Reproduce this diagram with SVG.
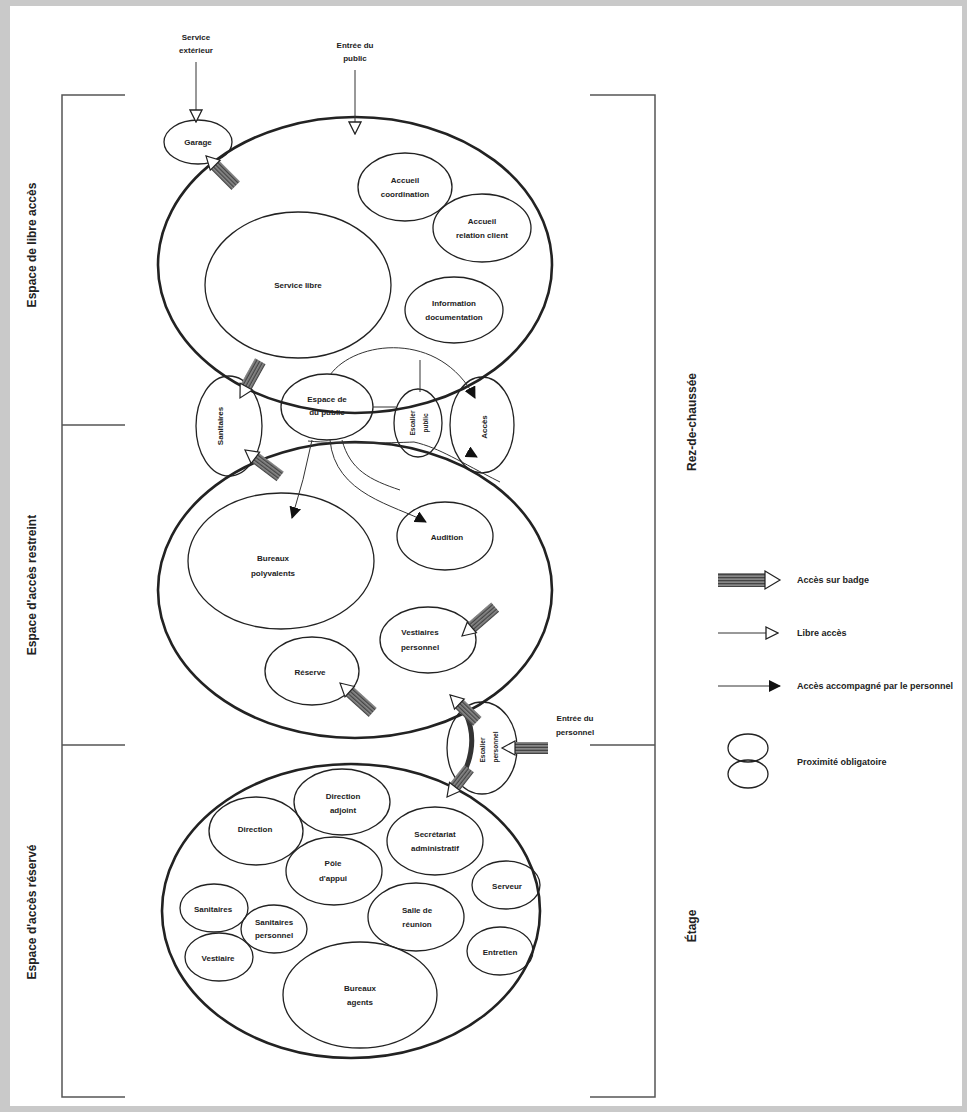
<svg xmlns="http://www.w3.org/2000/svg" width="967" height="1112" viewBox="0 0 967 1112">
<defs>
<style>
text{font-family:"Liberation Sans",Arial,sans-serif;font-weight:bold;font-size:8px;fill:#222;text-anchor:middle;dominant-baseline:central}
.side{font-size:12px}
.v{font-size:6.5px}
.leg{text-anchor:start;font-size:9px}
.n{fill:none;stroke:#222;stroke-width:1.3}
.big{fill:none;stroke:#222;stroke-width:2.6}
.br{fill:none;stroke:#555;stroke-width:1.5}
.c{fill:none;stroke:#333;stroke-width:1}
.open{fill:#fff;stroke:#222;stroke-width:1.2}
</style>
<pattern id="hatch" width="3" height="3" patternUnits="userSpaceOnUse">
<rect width="3" height="3" fill="#888"/>
<rect width="3" height="1.3" fill="#444"/>
</pattern>
<marker id="fh" viewBox="0 0 12 12" refX="11" refY="6" markerWidth="12" markerHeight="12" markerUnits="userSpaceOnUse" orient="auto">
<path d="M0,0 L12,6 L0,12 Z" fill="#111"/>
</marker>
<marker id="oh" viewBox="0 0 14 14" refX="13" refY="7" markerWidth="14" markerHeight="14" markerUnits="userSpaceOnUse" orient="auto">
<path d="M1,1 L13,7 L1,13 Z" fill="#fff" stroke="#222" stroke-width="1.3"/>
</marker>
</defs>
<rect width="967" height="1112" fill="#c9c9c9"/>
<rect x="10" y="6" width="952" height="1100" fill="#fff"/>

<g id="brackets">
<path class="br" d="M125,95 H62 V1097 H125 M62,425 H125 M62,745 H125"/>
<path class="br" d="M590,95 H655 V1097 H590 M590,745 H655"/>
<text class="side" transform="translate(32,245) rotate(-90)">Espace de libre accès</text>
<text class="side" transform="translate(32,585) rotate(-90)">Espace d'accès restreint</text>
<text class="side" transform="translate(32,912) rotate(-90)">Espace d'accès réservé</text>
<text class="side" transform="translate(692,422) rotate(-90)">Rez-de-chaussée</text>
<text class="side" transform="translate(692,926) rotate(-90)">Étage</text>
</g>

<g id="zone-libre"><ellipse class="big" cx="355" cy="265" rx="197" ry="148"/></g>
<g id="zone-restreint"><ellipse class="big" cx="355" cy="590" rx="197" ry="148"/></g>
<g id="zone-reserve"><ellipse class="big" cx="351" cy="911" rx="189" ry="147"/></g>

<g id="n-service-ext"><text x="196" y="37">Service</text><text x="196" y="50">extérieur</text></g>
<g id="n-entree-public"><text x="355" y="45">Entrée du</text><text x="355" y="58">public</text></g>
<g id="n-garage"><ellipse class="n" cx="198" cy="142" rx="34" ry="22"/><text x="198" y="142">Garage</text></g>
<g id="n-accueil-coord"><ellipse class="n" cx="405" cy="187" rx="47" ry="34"/><text x="405" y="180">Accueil</text><text x="405" y="194">coordination</text></g>
<g id="n-accueil-rel"><ellipse class="n" cx="482" cy="228" rx="49" ry="34"/><text x="482" y="221">Accueil</text><text x="482" y="235">relation client</text></g>
<g id="n-info"><ellipse class="n" cx="454" cy="310" rx="49" ry="33"/><text x="454" y="303">Information</text><text x="454" y="317">documentation</text></g>
<g id="n-service-libre"><ellipse class="n" cx="298" cy="285" rx="93" ry="73"/><text x="298" y="285">Service libre</text></g>

<g id="n-sanitaires-rdc"><ellipse class="n" cx="229" cy="426" rx="33" ry="50"/><text transform="translate(220,426) rotate(-90)">Sanitaires</text></g>
<g id="n-espace"><ellipse class="n" cx="327" cy="407" rx="46" ry="33"/><text x="327" y="399">Espace de</text><text x="327" y="412">du public</text></g>
<g id="n-escalier-public"><ellipse class="n" cx="418" cy="423" rx="24" ry="34"/><text class="v" transform="translate(412,423) rotate(-90)">Escalier</text><text class="v" transform="translate(425,423) rotate(-90)">public</text></g>
<g id="n-acces"><ellipse class="n" cx="482" cy="425" rx="32" ry="48"/><text transform="translate(484,427) rotate(-90)">Accès</text></g>

<g id="n-bureaux-poly"><ellipse class="n" cx="281" cy="561" rx="93" ry="68"/><text x="273" y="558">Bureaux</text><text x="273" y="573">polyvalents</text></g>
<g id="n-audition"><ellipse class="n" cx="445" cy="536" rx="48" ry="34"/><text x="447" y="537">Audition</text></g>
<g id="n-vestiaires-pers"><ellipse class="n" cx="428" cy="640" rx="48" ry="33"/><text x="420" y="632">Vestiaires</text><text x="420" y="647">personnel</text></g>
<g id="n-reserve"><ellipse class="n" cx="312" cy="671" rx="47" ry="34"/><text x="310" y="672">Réserve</text></g>

<g id="n-escalier-pers"><ellipse class="n" cx="482" cy="748" rx="35" ry="46"/><text class="v" transform="translate(482,750) rotate(-90)">Escalier</text><text class="v" transform="translate(495,747) rotate(-90)">personnel</text></g>
<g id="n-entree-pers"><text x="575" y="718">Entrée du</text><text x="575" y="732">personnel</text></g>

<g id="n-direction-adj"><ellipse class="n" cx="342" cy="802" rx="48" ry="33"/><text x="343" y="796">Direction</text><text x="343" y="810">adjoint</text></g>
<g id="n-direction"><ellipse class="n" cx="256" cy="831" rx="47" ry="34"/><text x="255" y="829">Direction</text></g>
<g id="n-secretariat"><ellipse class="n" cx="435" cy="841" rx="48" ry="34"/><text x="435" y="834">Secrétariat</text><text x="435" y="848">administratif</text></g>
<g id="n-pole"><ellipse class="n" cx="334" cy="871" rx="48" ry="34"/><text x="333" y="863">Pôle</text><text x="333" y="878">d'appui</text></g>
<g id="n-serveur"><ellipse class="n" cx="506" cy="885" rx="34" ry="24"/><text x="507" y="886">Serveur</text></g>
<g id="n-sanitaires"><ellipse class="n" cx="214" cy="908" rx="34" ry="24"/><text x="213" y="909">Sanitaires</text></g>
<g id="n-sanitaires-pers"><ellipse class="n" cx="274" cy="929" rx="33" ry="24"/><text x="274" y="922">Sanitaires</text><text x="274" y="935">personnel</text></g>
<g id="n-vestiaire"><ellipse class="n" cx="219" cy="957" rx="34" ry="24"/><text x="218" y="958">Vestiaire</text></g>
<g id="n-salle"><ellipse class="n" cx="416" cy="917" rx="48" ry="34"/><text x="417" y="910">Salle de</text><text x="417" y="924">réunion</text></g>
<g id="n-entretien"><ellipse class="n" cx="500" cy="951" rx="33" ry="24"/><text x="500" y="952">Entretien</text></g>
<g id="n-bureaux-agents"><ellipse class="n" cx="360" cy="995" rx="77" ry="53"/><text x="360" y="988">Bureaux</text><text x="360" y="1002">agents</text></g>

<g id="connectors">
<path class="c" d="M196,62 V122" marker-end="url(#oh)"/>
<path class="c" d="M355,70 V134" marker-end="url(#oh)"/>
<path class="c" d="M330,375 C355,340 440,330 475,398" marker-end="url(#fh)"/>
<path class="c" d="M373,407 H396"/>
<path class="c" d="M420,360 V392"/>
<path class="c" d="M308,441 C340,444 390,443 414,442 C440,448 460,462 500,482"/>
<path class="c" d="M468,452 L477,457" marker-end="url(#fh)"/>
<path class="c" d="M312,440 Q304,480 292,518" marker-end="url(#fh)"/>
<path class="c" d="M330,440 C335,495 395,505 426,522" marker-end="url(#fh)"/>
<path class="c" d="M342,440 C350,470 370,480 400,490"/>
<path d="M466,714 Q480,745 460,781" fill="none" stroke="#333" stroke-width="5"/>
<g transform="translate(206,156) rotate(-135)"><rect x="-42" y="-6" width="30" height="12" fill="url(#hatch)"/><polygon class="open" points="-13,-7 0,0 -13,7"/></g>
<g transform="translate(240,398) rotate(119)"><rect x="-42" y="-6" width="30" height="12" fill="url(#hatch)"/><polygon class="open" points="-13,-7 0,0 -13,7"/></g>
<g transform="translate(245,450) rotate(-143)"><rect x="-44" y="-6" width="32" height="12" fill="url(#hatch)"/><polygon class="open" points="-13,-7 0,0 -13,7"/></g>
<g transform="translate(462,636) rotate(139)"><rect x="-44" y="-6" width="32" height="12" fill="url(#hatch)"/><polygon class="open" points="-13,-7 0,0 -13,7"/></g>
<g transform="translate(340,683) rotate(-138)"><rect x="-44" y="-6" width="32" height="12" fill="url(#hatch)"/><polygon class="open" points="-13,-7 0,0 -13,7"/></g>
<g transform="translate(450,695) rotate(-136)"><rect x="-38" y="-6" width="26" height="12" fill="url(#hatch)"/><polygon class="open" points="-13,-7 0,0 -13,7"/></g>
<g transform="translate(447,797) rotate(128)"><rect x="-36" y="-6" width="24" height="12" fill="url(#hatch)"/><polygon class="open" points="-13,-7 0,0 -13,7"/></g>
<g transform="translate(502,748) rotate(180)"><rect x="-46" y="-6" width="34" height="12" fill="url(#hatch)"/><polygon class="open" points="-13,-7 0,0 -13,7"/></g>
</g>

<g id="legend">
<g transform="translate(780,580)"><rect x="-62" y="-7" width="48" height="14" fill="url(#hatch)"/><polygon class="open" points="-15,-9 0,0 -15,9"/></g>
<text class="leg" x="797" y="580">Accès sur badge</text>
<path class="c" d="M718,633 H778" marker-end="url(#oh)"/>
<text class="leg" x="797" y="633">Libre accès</text>
<path class="c" d="M718,686 H780" marker-end="url(#fh)"/>
<text class="leg" x="797" y="686">Accès accompagné par le personnel</text>
<ellipse class="n" cx="748" cy="748" rx="20" ry="14"/>
<ellipse class="n" cx="748" cy="774" rx="20" ry="14"/>
<text class="leg" x="797" y="762">Proximité obligatoire</text>
</g>
</svg>
